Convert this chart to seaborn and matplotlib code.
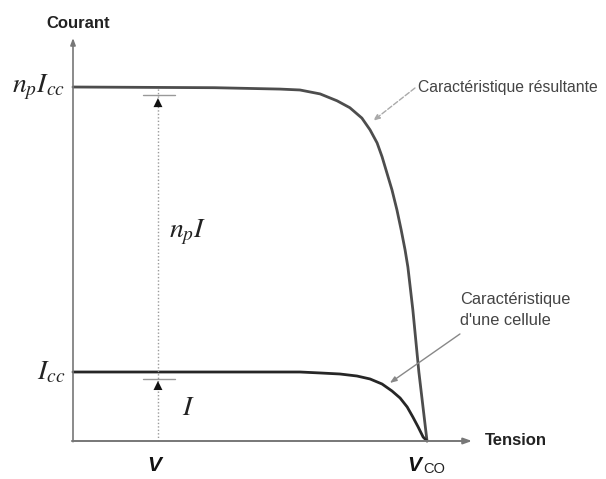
import matplotlib
matplotlib.use("Agg")
import matplotlib.pyplot as plt
import seaborn as sns
import pandas as pd

# Normalised voltage (V / Vco) and current (I / Icc) read along each characteristic
v_res = [0.0, 0.40, 0.585, 0.641, 0.698, 0.746, 0.782, 0.816, 0.839, 0.859,
         0.873, 0.887, 0.901, 0.915, 0.927, 0.938, 0.946, 0.960, 0.977, 1.0]
i_res = [5.13, 5.12, 5.10, 5.087, 5.03, 4.93, 4.83, 4.68, 4.51, 4.32,
         4.12, 3.88, 3.64, 3.35, 3.06, 2.77, 2.52, 1.90, 1.00, 0.0]

v_cell = [0.0, 0.40, 0.641, 0.698, 0.754, 0.802, 0.839, 0.873, 0.901,
          0.924, 0.944, 0.960, 0.975, 0.989, 1.0]
i_cell = [1.0, 1.0, 1.0, 0.986, 0.971, 0.942, 0.899, 0.826, 0.725,
          0.623, 0.493, 0.348, 0.203, 0.058, 0.0]

v_op = 0.240          # operating voltage marked on the plot
i_top = 5.13          # np * Icc
i_cc = 1.0            # Icc

ylabels = [r"$n_pI_{cc}$", r"$I_{cc}$"]
ylabel_values = [i_top, i_cc]

sns.set_style("white")
plt.rcParams["mathtext.fontset"] = "stix"
plt.rcParams["font.family"] = ["Liberation Sans", "DejaVu Sans"]

fig = plt.figure(figsize=(6.06, 4.79), dpi=100)
ax = fig.add_axes([0, 0, 1, 1])
ax.set_xlim(-0.2062, 1.5056)
ax.set_ylim(-0.5507, 6.391)
ax.axis("off")

df_res = pd.DataFrame({"V": v_res, "I": i_res})
df_cell = pd.DataFrame({"V": v_cell, "I": i_cell})
sns.lineplot(data=df_res, x="V", y="I", ax=ax, color="#4d4d4d", lw=2.0,
             sort=False, estimator=None)
sns.lineplot(data=df_cell, x="V", y="I", ax=ax, color="#262626", lw=2.0,
             sort=False, estimator=None)

# Axes with arrow heads
axis_col = "#777777"
ax.annotate("", xy=(1.127, 0), xytext=(-0.003, 0),
            arrowprops=dict(arrowstyle="-|>,head_length=0.5,head_width=0.18",
                            color=axis_col, lw=1.4, shrinkA=0, shrinkB=0))
ax.annotate("", xy=(0, 5.84), xytext=(0, -0.01),
            arrowprops=dict(arrowstyle="-|>,head_length=0.4,head_width=0.15",
                            color=axis_col, lw=1.2, shrinkA=0, shrinkB=0))

ax.text(0.015, 6.05, "Courant", fontsize=12, fontweight="bold",
        ha="center", va="center", color="#222222")
ax.text(1.25, 0.0, "Tension", fontsize=12, fontweight="bold",
        ha="center", va="center", color="#222222")

# Current levels on the vertical axis
for lab, val in zip(ylabels, ylabel_values):
    ax.text(-0.022, val, lab, fontsize=20, ha="right", va="center",
            color="#222222")

# Dotted operating line and current arrows
ax.plot([v_op, v_op], [0, i_top], ls=(0, (1, 1.5)), color="#9a9a9a", lw=1.0)
for tip, bar in [(4.97, 5.01), (0.87, 0.90)]:
    ax.annotate("", xy=(v_op, tip), xytext=(v_op, tip - 0.35),
                arrowprops=dict(arrowstyle="-|>,head_length=0.65,head_width=0.32",
                                color="#111111", lw=0.01, shrinkA=0, shrinkB=0))
    ax.plot([0.198, 0.288], [bar, bar], color="#999999", lw=1.0)

ax.text(0.325, 3.03, r"$n_pI$", fontsize=20, ha="center", va="center",
        color="#222222")
ax.text(0.325, 0.478, r"$I$", fontsize=20, ha="center", va="center",
        color="#222222")

# Voltage labels
ax.text(v_op - 0.01, -0.35, "V", fontsize=15, fontweight="bold",
        fontstyle="italic", ha="center", va="center", color="#111111")
ax.text(0.965, -0.35, "V", fontsize=15, fontweight="bold",
        fontstyle="italic", ha="center", va="center", color="#111111")
ax.text(0.99, -0.40, "CO", fontsize=10.5, ha="left", va="center",
        color="#222222")

# Callouts
ax.text(0.975, 5.116, "Caractéristique résultante", fontsize=11.3,
        ha="left", va="center", color="#444444")
ax.annotate("", xy=(0.847, 4.638), xytext=(0.966, 5.116),
            arrowprops=dict(arrowstyle="-|>,head_length=0.4,head_width=0.15",
                            color="#aaaaaa", lw=1.0, ls="--",
                            shrinkA=0, shrinkB=0))
ax.text(1.093, 1.90, "Caractéristique\nd'une cellule", fontsize=11.8,
        ha="left", va="center", color="#444444", linespacing=1.45)
ax.annotate("", xy=(0.895, 0.841), xytext=(1.093, 1.551),
            arrowprops=dict(arrowstyle="-|>,head_length=0.4,head_width=0.15",
                            color="#888888", lw=1.0, shrinkA=0, shrinkB=0))

fig.savefig("out.png", dpi=100)
